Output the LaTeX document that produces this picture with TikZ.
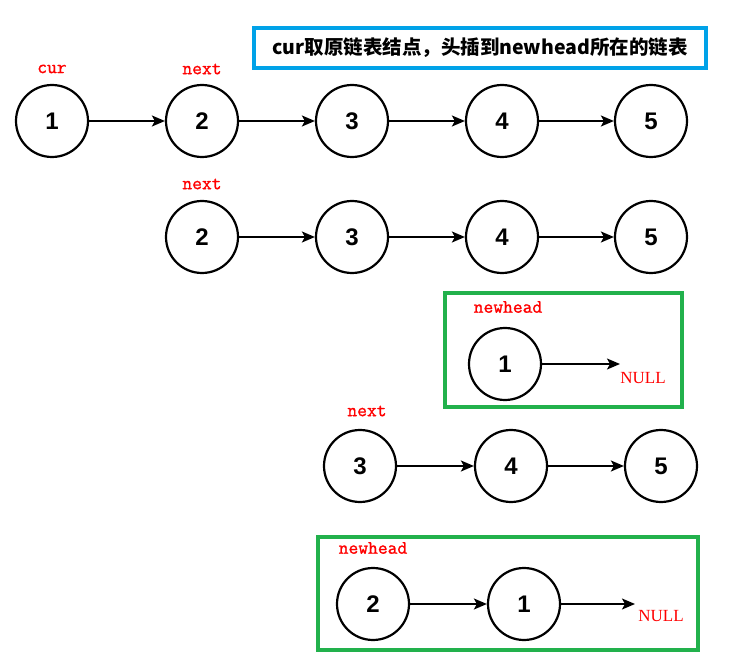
\documentclass[tikz,border=0pt]{standalone}
\usepackage{fontspec}
\setmainfont{Liberation Serif}
\newfontfamily\numfont{Liberation Sans}
\newfontfamily\cjkfont{Noto Sans CJK SC}
\newfontfamily\monofont[FakeBold=1.2]{Latin Modern Mono}
\usetikzlibrary{arrows.meta}
\definecolor{titleblue}{HTML}{00A2E8}
\definecolor{boxgreen}{HTML}{22B14C}
\definecolor{lblred}{HTML}{FF0000}
\begin{document}
\begin{tikzpicture}[x=1pt,y=-1pt,
  lnode/.style={circle,draw=black,line width=2.2pt,minimum size=72pt,inner sep=0pt,font=\numfont\bfseries\fontsize{24}{24}\selectfont},
  lbl/.style={text=lblred,font=\monofont\fontsize{19}{19}\selectfont,inner sep=0pt},
  nulllbl/.style={text=lblred,font=\fontsize{17}{17}\selectfont,inner sep=0pt},
  link/.style={line width=1.8pt,-{Stealth[length=13pt,width=11pt,inset=3pt]}},
  gbox/.style={draw=boxgreen,line width=3.5pt}]
\useasboundingbox (0,0) rectangle (732,671);
% title
\node[draw=titleblue,line width=4pt,minimum width=452pt,minimum height=40pt,inner sep=0pt,font=\cjkfont\bfseries\fontsize{19.5}{19.5}\selectfont] (title) at (480,48) {cur取原链表结点，头插到newhead所在的链表};
% row 1
\node[lnode] (a1) at (52,121) {1};
\node[lnode] (a2) at (202,121) {2};
\node[lnode] (a3) at (352,121) {3};
\node[lnode] (a4) at (502,121) {4};
\node[lnode] (a5) at (651,121) {5};
\node[lbl] (cur1) at (52,69) {cur};
\node[lbl] (nx1) at (202,69) {next};
\draw[link] (a1) -- (a2);
\draw[link] (a2) -- (a3);
\draw[link] (a3) -- (a4);
\draw[link] (a4) -- (a5);
% row 2
\node[lnode] (b2) at (202,237) {2};
\node[lnode] (b3) at (352,237) {3};
\node[lnode] (b4) at (502,237) {4};
\node[lnode] (b5) at (651,237) {5};
\node[lbl] (nx2) at (202,184) {next};
\draw[link] (b2) -- (b3);
\draw[link] (b3) -- (b4);
\draw[link] (b4) -- (b5);
% green box 1
\draw[gbox] (445,293) rectangle (682,407);
\node[lnode] (c1) at (505,364) {1};
\node[lbl] (nh1) at (508,307) {newhead};
\coordinate (c1end) at (620,364);
\draw[link] (c1) -- (c1end);
\node[nulllbl] (null1) at (643,378) {NULL};
% row 4
\node[lnode] (d3) at (360,466) {3};
\node[lnode] (d4) at (511,466) {4};
\node[lnode] (d5) at (661,466) {5};
\node[lbl] (nx4) at (367,411) {next};
\draw[link] (d3) -- (d4);
\draw[link] (d4) -- (d5);
% green box 2
\draw[gbox] (318,537) rectangle (698,650);
\node[lnode] (e2) at (373,604) {2};
\node[lnode] (e1) at (524,604) {1};
\node[lbl] (nh2) at (373,548) {newhead};
\coordinate (e1end) at (635,604);
\draw[link] (e2) -- (e1);
\draw[link] (e1) -- (e1end);
\node[nulllbl] (null2) at (661,616) {NULL};
\end{tikzpicture}
\end{document}
